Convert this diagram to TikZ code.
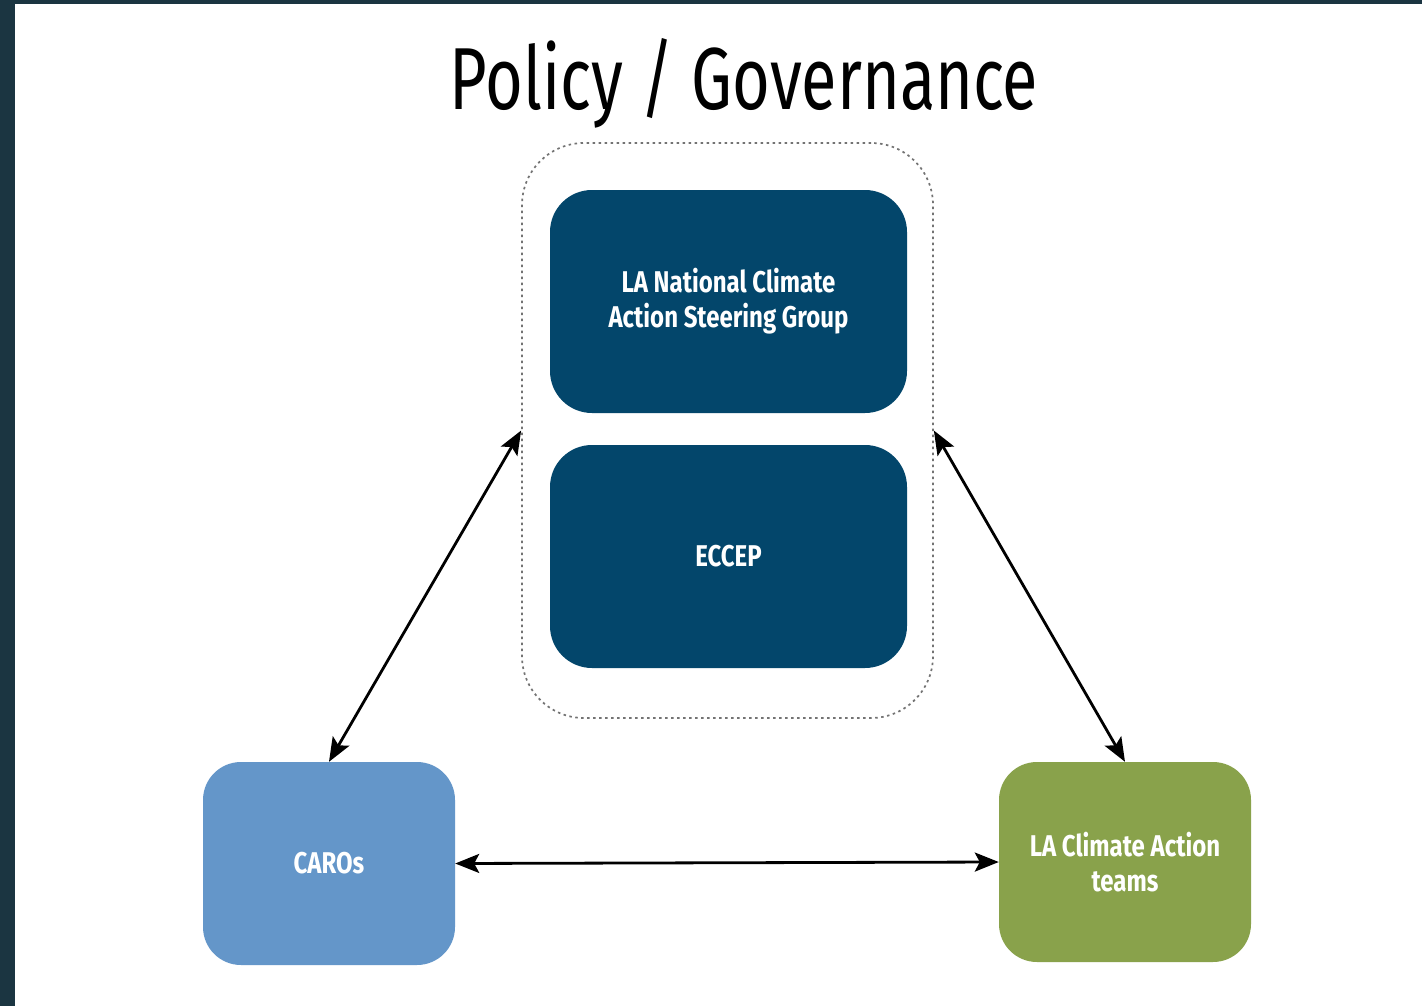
\documentclass[tikz,border=0pt]{standalone}
\usepackage{fontspec}
\usepackage{graphicx}
\setmainfont{Fira Sans}
\newfontfamily\condbold[FakeStretch=0.8]{Fira Sans}
\newfontfamily\condtitle[FakeStretch=0.62]{Fira Sans}
\usetikzlibrary{arrows.meta}
\definecolor{frame}{HTML}{1B3541}
\definecolor{navy}{HTML}{03466B}
\definecolor{skyb}{HTML}{6496C9}
\definecolor{olive}{HTML}{89A24B}
\tikzset{
  box/.style={rectangle, rounded corners=42pt, draw=none, text=white,
    font=\condbold\bfseries\fontsize{30}{35}\selectfont, align=center, inner sep=0pt},
  link/.style={line width=2.8pt, {Stealth[length=24pt,width=19pt,inset=5pt]}-{Stealth[length=24pt,width=19pt,inset=5pt]}},
  group/.style={rectangle, rounded corners=62pt, draw=gray!90!black, line width=1.7pt,
    dash pattern=on 2.5pt off 3.5pt}
}
\begin{document}
\begin{tikzpicture}[x=1pt,y=-1pt]
\useasboundingbox (0,0) rectangle (1422,1006);
\fill[frame] (0,0) rectangle (1422,1006);
\fill[white] (15,4) rectangle (1422,1006);
\node[anchor=base, inner sep=0pt] (title) at (744,110)
  {\resizebox{588pt}{71pt}{\condtitle Policy / Governance}};
\node[group, minimum width=411pt, minimum height=575pt] (cont) at (727.5,430.5) {};
\node[box, fill=navy, minimum width=357pt, minimum height=223pt] (lanc) at (728.5,301.5)
  {LA National Climate\\Action Steering Group};
\node[box, fill=navy, minimum width=357pt, minimum height=223pt] (eccep) at (728.5,556.5)
  {ECCEP};
\node[box, fill=skyb, minimum width=252pt, minimum height=203pt, rounded corners=38pt] (caros) at (329,863.5)
  {CAROs};
\node[box, fill=olive, minimum width=252pt, minimum height=200pt, rounded corners=38pt] (teams) at (1125,862)
  {LA Climate Action\\teams};
\draw[link] (cont.west) -- (caros.north);
\draw[link] (cont.east) -- (teams.north);
\draw[link] (caros.east) -- (teams.west);
\end{tikzpicture}
\end{document}
